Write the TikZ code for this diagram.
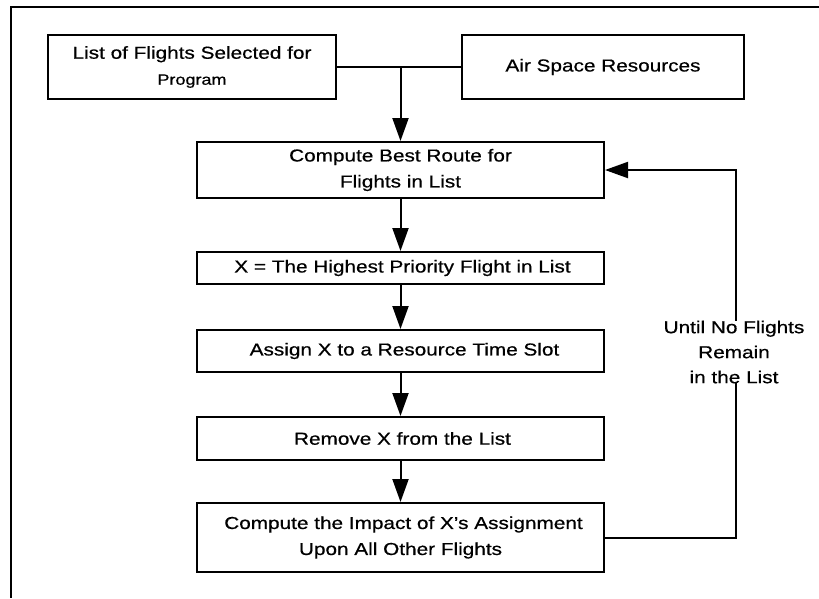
\documentclass[tikz,border=0pt]{standalone}
\usepackage{fontspec}
\setmainfont[FakeStretch=1.2,FakeBold=0.6]{Liberation Sans}
\usetikzlibrary{arrows.meta}
\begin{document}
\begin{tikzpicture}[x=1pt,y=-1pt,
  box/.style={draw,line width=2pt,inner sep=0pt,align=center,
    font=\fontsize{17.3}{26}\selectfont},
  flow/.style={line width=2pt,-{Triangle[length=23pt,width=16pt]}},
  link/.style={line width=2pt},
  lbl/.style={fill=white,inner xsep=2pt,inner ysep=0pt,align=center,
    font=\fontsize{17.3}{25}\selectfont}]
\useasboundingbox (0,0) rectangle (819,598);
\draw[line width=1.5pt] (819,7) -- (11,7) -- (11,598);
\node[box,minimum width=288pt,minimum height=64pt] (list) at (192,67)
  {List of Flights Selected for\\{\fontsize{15}{26}\selectfont Program}};
\node[box,minimum width=282pt,minimum height=64pt] (air) at (603,67)
  {Air Space Resources};
\node[box,minimum width=407pt,minimum height=56pt] (route) at (400.5,170)
  {Compute Best Route for\\Flights in List};
\node[box,minimum width=407pt,minimum height=32pt] (high) at (400.5,268)
  {\hspace*{4pt}X = The Highest Priority Flight in List};
\node[box,minimum width=407pt,minimum height=42pt] (assign) at (400.5,351)
  {\hspace*{8pt}Assign X to a Resource Time Slot};
\node[box,minimum width=407pt,minimum height=43pt] (remove) at (400.5,438.5)
  {\hspace*{4pt}Remove X from the List};
\node[box,minimum width=407pt,minimum height=69pt] (impact) at (400.5,537.5)
  {\hspace*{6pt}Compute the Impact of X's Assignment\\Upon All Other Flights};
\coordinate (join) at (route.north |- list.east);
\draw[link] (list.east) -- (air.west);
\draw[flow] (join) -- (route.north);
\draw[flow] (route) -- (high);
\draw[flow] (high) -- (assign);
\draw[flow] (assign) -- (remove);
\draw[flow] (remove) -- (impact);
\coordinate (c1) at (736,537.5);
\coordinate (c2) at (736,170);
\draw[flow] (impact.east) -- (c1) -- (c2) -- (route.east);
\node[lbl] (until) at (734,352) {Until No Flights\\Remain\\in the List};
\end{tikzpicture}
\end{document}
